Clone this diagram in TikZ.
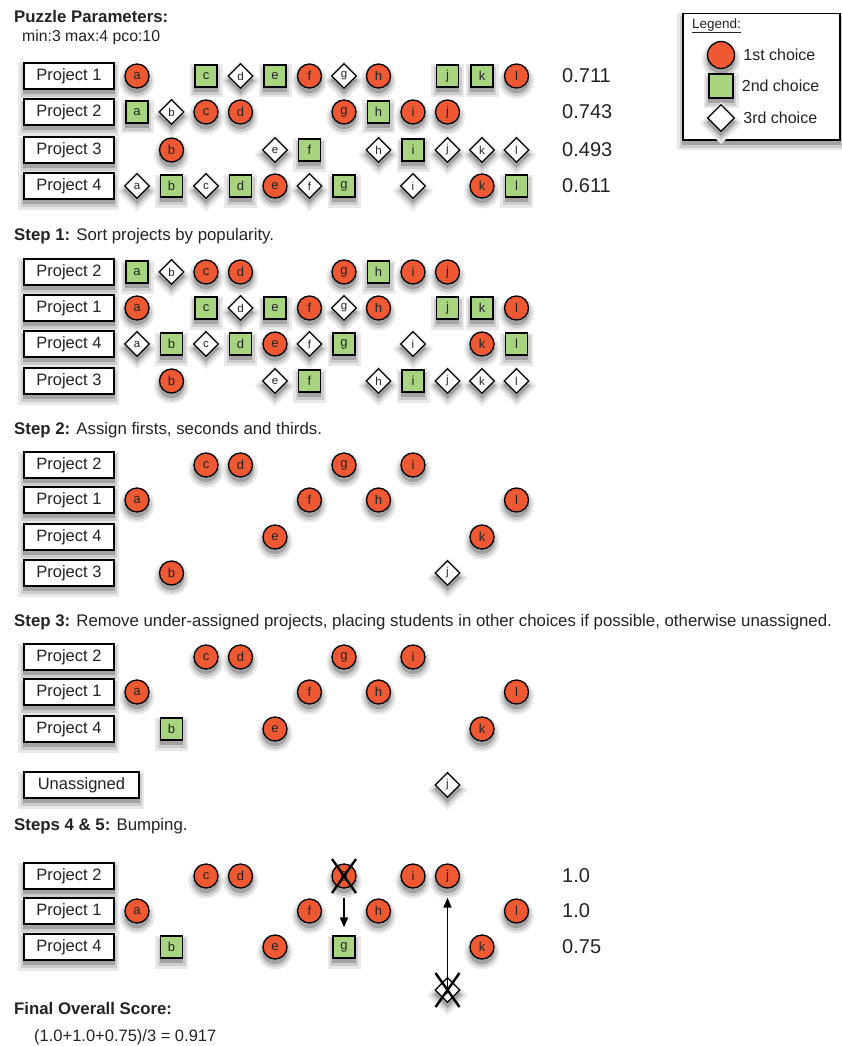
\documentclass[tikz,border=0pt]{standalone}
\usepackage{fontspec}
\setmainfont{Liberation Sans}
\usetikzlibrary{shapes.geometric,arrows.meta,positioning,calc,shadows}

\definecolor{firstred}{RGB}{238,88,50}
\definecolor{secondgreen}{RGB}{168,212,128}
\definecolor{inktext}{RGB}{35,35,35}

\newcommand{\fsz}[1]{\fontsize{#1}{#1}\selectfont}

% one project row: name, y, label, list of letter/choice
\newcommand{\projrow}[4]{%
  \node[projbox] (#1) at (23,#2) {#3};
  \foreach \ltr/\kind in {#4}
    \node[choice\kind] (#1-\ltr) at (col-\ltr |- #1) {\ltr};
}

\begin{document}
\begin{tikzpicture}[x=1pt, y=-1pt, >={Triangle[length=10pt,width=8pt]},
  font=\fsz{16.8}, text=inktext,
  shadowed/.style={
    general shadow={shadow yshift=-5pt, fill=black!9, draw=black!9, line width=11pt},
    general shadow={shadow yshift=-5pt, fill=black!20, draw=black!20, line width=6pt},
    general shadow={shadow yshift=-4.5pt, fill=black!36, draw=black!36, line width=1.5pt}},
  projbox/.style={draw, line width=1.8pt, fill=white, shadowed, anchor=west,
      minimum width=90pt, minimum height=26pt, inner sep=2pt, font=\fsz{16.5}},
  choice1/.style={circle, draw, line width=1.3pt, fill=firstred, shadowed,
      minimum size=24pt, inner sep=0pt, font=\fsz{13}},
  choice2/.style={rectangle, draw, line width=1.3pt, fill=secondgreen, shadowed,
      minimum size=22pt, inner sep=0pt, font=\fsz{13}},
  choice3/.style={diamond, draw, line width=1.3pt, fill=white, shadowed,
      minimum size=25pt, inner sep=0pt, font=\fsz{11.5}},
  heading/.style={anchor=west, inner sep=0pt},
  score/.style={anchor=west, inner sep=0pt, font=\fsz{20}},
  xmark/.style={line width=2.4pt, black}]

  \useasboundingbox (0,0) rectangle (841,1046);

  \foreach \ltr [count=\i from 0] in {a,...,l}
    \coordinate (col-\ltr) at ({137+34.5*\i},0);

  \node[heading] (params) at (14,16) {\textbf{Puzzle Parameters:}};
  \node[heading, font=\fsz{15.8}] (paramvals) at (22,37) {min:3 max:4 pco:10};

  \node[draw, line width=1.5pt, fill=white, shadowed, anchor=north west,
    minimum width=157pt, minimum height=126pt] (legend) at (682,13) {};
  \node[heading, font=\fsz{13.5}] (legend-title) at (692,26) {\underline{Legend:}};
  \node[choice1, minimum size=27pt] (key1) at (721,55) {};
  \node[choice2, minimum size=24pt] (key2) at (721,86) {};
  \node[choice3, minimum size=27pt] (key3) at (721,118) {};
  \node[heading, font=\fsz{16}, right=8pt of key1] (key1-text) {1st choice};
  \node[heading, font=\fsz{16}, right=8pt of key2] (key2-text) {2nd choice};
  \node[heading, font=\fsz{16}, right=8pt of key3] (key3-text) {3rd choice};

  \projrow{s0p1}{76}{Project 1}{a/1,c/2,d/3,e/2,f/1,g/3,h/1,j/2,k/2,l/1}
  \projrow{s0p2}{112}{Project 2}{a/2,b/3,c/1,d/1,g/1,h/2,i/1,j/1}
  \projrow{s0p3}{150}{Project 3}{b/1,e/3,f/2,h/3,i/2,j/3,k/3,l/3}
  \projrow{s0p4}{186}{Project 4}{a/3,b/2,c/3,d/2,e/1,f/3,g/2,i/3,k/1,l/2}
  \node[score] (s0p1-score) at (562,76) {0.711};
  \node[score] (s0p2-score) at (562,112) {0.743};
  \node[score] (s0p3-score) at (562,150) {0.493};
  \node[score] (s0p4-score) at (562,186) {0.611};

  \node[heading] (step1) at (14,236) {\textbf{Step 1:} Sort projects by popularity.};
  \projrow{s1p2}{272}{Project 2}{a/2,b/3,c/1,d/1,g/1,h/2,i/1,j/1}
  \projrow{s1p1}{308}{Project 1}{a/1,c/2,d/3,e/2,f/1,g/3,h/1,j/2,k/2,l/1}
  \projrow{s1p4}{344}{Project 4}{a/3,b/2,c/3,d/2,e/1,f/3,g/2,i/3,k/1,l/2}
  \projrow{s1p3}{381}{Project 3}{b/1,e/3,f/2,h/3,i/2,j/3,k/3,l/3}

  \node[heading] (step2) at (14,430) {\textbf{Step 2:} Assign firsts, seconds and thirds.};
  \projrow{s2p2}{465}{Project 2}{c/1,d/1,g/1,i/1}
  \projrow{s2p1}{500}{Project 1}{a/1,f/1,h/1,l/1}
  \projrow{s2p4}{537}{Project 4}{e/1,k/1}
  \projrow{s2p3}{573}{Project 3}{b/1,j/3}

  \node[heading] (step3) at (14,622) {\textbf{Step 3:} Remove under-assigned projects, placing students in other choices if possible, otherwise unassigned.};
  \projrow{s3p2}{657}{Project 2}{c/1,d/1,g/1,i/1}
  \projrow{s3p1}{692}{Project 1}{a/1,f/1,h/1,l/1}
  \projrow{s3p4}{729}{Project 4}{b/2,e/1,k/1}
  \node[projbox, minimum width=115pt] (s3un) at (23,785) {Unassigned};
  \node[choice3] (s3un-j) at (col-j |- s3un) {j};

  \node[heading] (step4) at (14,826) {\textbf{Steps 4 \& 5:} Bumping.};
  \projrow{s4p2}{876}{Project 2}{c/1,d/1,g/1,i/1,j/1}
  \projrow{s4p1}{911}{Project 1}{a/1,f/1,h/1,l/1}
  \projrow{s4p4}{947}{Project 4}{b/2,e/1,g/2,k/1}
  \coordinate (bump) at (447.5,990);
  \node[choice3] (bumped-j) at (col-j |- bump) {j};
  \node[score] (s4p2-score) at (562,876) {1.0};
  \node[score] (s4p1-score) at (562,911) {1.0};
  \node[score] (s4p4-score) at (562,947) {0.75};

  \draw[->, line width=1.6pt, shorten <=9pt, shorten >=8pt] (s4p2-g) -- (s4p4-g);
  \draw[->, line width=1.6pt, shorten >=9pt] (bumped-j.center) -- (s4p2-j);
  \foreach \n in {s4p2-g, bumped-j} {
    \draw[xmark] ([shift={(-12,-17)}]\n.center) -- ([shift={(12,17)}]\n.center);
    \draw[xmark] ([shift={(12,-17)}]\n.center) -- ([shift={(-12,17)}]\n.center);
  }

  \node[heading] (final) at (14,1008) {\textbf{Final Overall Score:}};
  \node[heading, font=\fsz{16.5}] (formula) at (34,1037) {(1.0+1.0+0.75)/3 = 0.917};
\end{tikzpicture}
\end{document}
